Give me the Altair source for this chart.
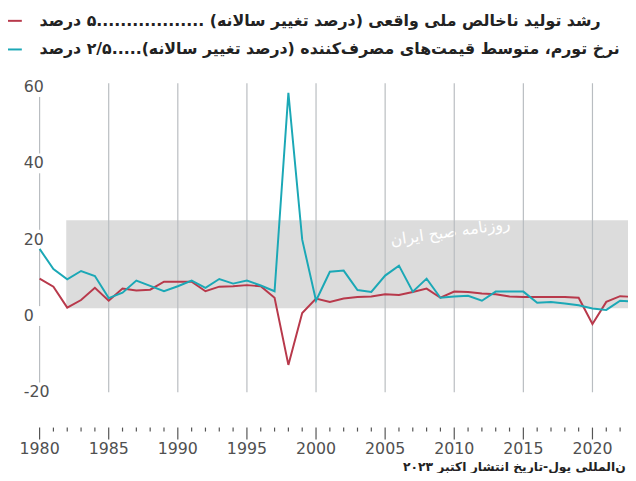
import altair as alt
import pandas as pd

years = list(range(1980, 2024))
gdp = [9.8, 7.7, 2.2, 4.2, 7.4, 4.0, 7.2, 6.7, 6.9, 9.0,
       9.0, 9.0, 6.5, 7.7, 7.8, 8.1, 7.8, 4.8, -12.8, 0.8,
       4.6, 3.7, 4.6, 5.0, 5.1, 5.7, 5.5, 6.3, 7.2, 4.8,
       6.4, 6.3, 5.9, 5.7, 5.1, 5.0, 5.0, 5.0, 5.0, 4.8,
       -2.1, 3.7, 5.2, 5.0]
cpi = [17.6, 12.3, 9.6, 11.8, 10.5, 4.7, 6.1, 9.3, 7.9, 6.5,
       7.8, 9.3, 7.4, 9.7, 8.5, 9.3, 8.0, 6.5, 58.5, 20.0,
       4.0, 11.6, 11.9, 6.8, 6.3, 10.6, 13.2, 6.4, 9.8, 4.8,
       5.1, 5.3, 4.0, 6.4, 6.4, 6.4, 3.5, 3.7, 3.3, 2.8,
       2.0, 1.6, 4.0, 3.8]
y_ticks = [60, 40, 20, 0, -20]
x_major = [1980, 1985, 1990, 1995, 2000, 2005, 2010, 2015, 2020]
x_minor = [y for y in range(1980, 2023) if y % 5 != 0]
grid_years = [1985, 1990, 1995, 2000, 2005, 2010, 2015, 2020]

legend_gdp = "رشد تولید ناخالص ملی واقعی (درصد تغییر سالانه)  ..................۵ درصد"
legend_cpi = "نرخ تورم، متوسط قیمت\u200cهای مصرف\u200cکننده (درصد تغییر سالانه).....۲/۵ درصد"
source_txt = "ن\u200cالمللی پول-تاریخ انتشار اکتبر ۲۰۲۳"
watermark = "روزنامه صبح ایران"

RED = "#b8394b"
BLUE = "#1ba8b6"
GRID = "#b9bdc1"
TXT = "#505050"
FA = "DejaVu Sans"
NUM = "DejaVu Sans"

W, H = 628, 465
xs = alt.Scale(domain=[1977.714, 2022.571], range=[0, W], nice=False, zero=False)
ys = alt.Scale(domain=[-40.35, 79.93], nice=False, zero=False)

df = pd.DataFrame({"year": years, "gdp": gdp, "cpi": cpi})
one = pd.DataFrame({"a": [0]})

X = lambda f="year": alt.X(f"{f}:Q", scale=xs, axis=None)
Y = lambda f: alt.Y(f"{f}:Q", scale=ys, axis=None)

band = alt.Chart(one).mark_rect(color="#dcdcdc").encode(
    x=alt.value(59), x2=alt.value(W), y=alt.value(212), y2=alt.value(301))

wm = alt.Chart(one).mark_text(
    text=watermark, font=FA, fontSize=16, color="white", angle=352,
    align="center", baseline="middle").encode(x=alt.value(448), y=alt.value(224))

gdf = pd.DataFrame({"year": grid_years, "lo": [-20] * len(grid_years), "hi": [61] * len(grid_years)})
grid = alt.Chart(gdf).mark_rule(color=GRID, strokeWidth=1.2).encode(
    x=X(), y=Y("lo"), y2="hi:Q")

adf = pd.DataFrame({"year": [1980], "lo": [-20], "hi": [60.5]})
axisline = alt.Chart(adf).mark_rule(color=GRID, strokeWidth=1.2).encode(
    x=X(), y=Y("lo"), y2="hi:Q")

ydf = pd.DataFrame({"v": y_ticks, "lab": [str(v) for v in y_ticks]})
ydf["lo"] = ydf["v"] - 2.6
ydf["hi"] = ydf["v"] + 2.6
ymask = alt.Chart(ydf).mark_rect(color="white").encode(
    x=alt.value(12), x2=alt.value(38), y=Y("lo"), y2="hi:Q")
ylab = alt.Chart(ydf).mark_text(
    font=NUM, fontSize=16, color=TXT, align="left", baseline="middle").encode(
    x=alt.value(16), y=Y("v"), text="lab:N")

red = alt.Chart(df).mark_line(color=RED, strokeWidth=2).encode(x=X(), y=Y("gdp"))
blue = alt.Chart(df).mark_line(color=BLUE, strokeWidth=2).encode(x=X(), y=Y("cpi"))

mj = pd.DataFrame({"year": x_major, "lab": [str(v) for v in x_major]})
mn = pd.DataFrame({"year": x_minor})
tmaj = alt.Chart(mj).mark_rule(color="#555555", strokeWidth=1.2).encode(
    x=X(), y=alt.value(422), y2=alt.value(434))
tmin = alt.Chart(mn).mark_rule(color="#555555", strokeWidth=1.2).encode(
    x=X(), y=alt.value(422), y2=alt.value(426))
xlab = alt.Chart(mj).mark_text(
    font=NUM, fontSize=16, color=TXT, align="center", baseline="middle").encode(
    x=X(), y=alt.value(444), text="lab:N")

leg_df = pd.DataFrame({"x": [0, 0], "x2": [14, 14], "y": [10, 39],
                       "c": [RED, BLUE], "t": [legend_gdp, legend_cpi]})
leg_lines = alt.Chart(leg_df).mark_rule(strokeWidth=2).encode(
    x=alt.X("x:Q", scale=None, axis=None), x2="x2:Q",
    y=alt.Y("y:Q", scale=None, axis=None),
    color=alt.Color("c:N", scale=None))
leg_text = alt.Chart(leg_df).mark_text(
    font=FA, fontSize=16, fontWeight="bold", color="#222222",
    align="left", baseline="middle").encode(
    x=alt.value(32), y=alt.Y("y:Q", scale=None, axis=None), text="t:N")

src = alt.Chart(pd.DataFrame({"t": [source_txt]})).mark_text(
    font=FA, fontSize=12.5, fontWeight="bold", color="#222222",
    align="left", baseline="middle").encode(
    x=alt.value(400), y=alt.value(462), text="t:N")

chart = alt.layer(
    band, wm, grid, axisline, ymask, ylab, red, blue,
    tmaj, tmin, xlab, leg_lines, leg_text, src
).properties(
    width=W, height=H,
    autosize=alt.AutoSizeParams(type="none"),
    padding={"left": 0, "right": 0, "top": 0, "bottom": 0},
).configure_view(stroke=None)

chart.save("out.html", embed_options={"renderer": "svg", "actions": False})
